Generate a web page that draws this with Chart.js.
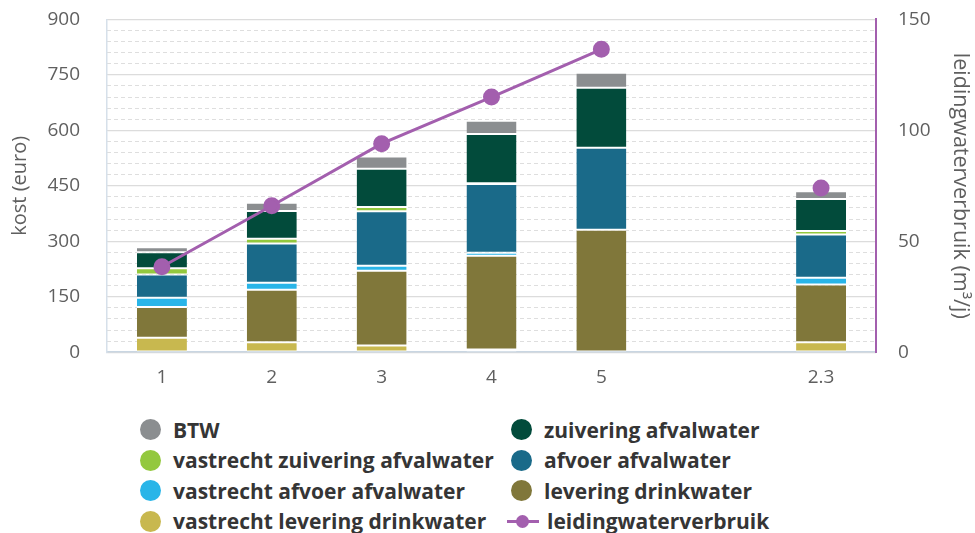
<!DOCTYPE html>
<html>
<head>
<meta charset="utf-8">
<script src="https://cdn.jsdelivr.net/npm/chart.js@4"></script>
<style>
  html, body { margin:0; padding:0; background:#fff; overflow:hidden; }
  #wrap { position:relative; width:975px; height:414px; margin-top:-19px; }
  #legend { position:absolute; left:140px; top:418px; display:grid; grid-template-columns:371px 300px; row-gap:7.5px;
            font-family:"Open Sans", sans-serif; font-weight:700; font-size:21px; color:#353535; }
  .item { display:flex; align-items:center; height:23px; white-space:nowrap; }
  .dot { width:21px; height:21px; border-radius:50%; margin-right:12px; flex:none; }
  .ln { position:relative; width:32px; height:21px; margin-left:-4px; margin-right:8px; flex:none; }
  .ln i { position:absolute; left:0; right:0; top:9px; height:3px; }
  .ln b { position:absolute; left:9px; top:4px; width:13px; height:13px; border-radius:50%; }
</style>
</head>
<body>
<div id="wrap"><canvas id="chart"></canvas></div>
<div id="legend"></div>
<script>
const categories = ['1', '2', '3', '4', '5', '', '2.3'];

const vastrechtLevering = [39, 27, 18, 7, 0, null, 27];
const levering          = [83, 142, 202, 254, 331, null, 156];
const vastrechtAfvoer   = [25, 19, 14, 8, 0, null, 18];
const afvoer            = [63, 106, 147, 186, 222, null, 117];
const vastrechtZuivering= [17, 13, 12, 2, 0, null, 10];
const zuivering         = [43, 75, 103, 133, 162, null, 86];
const btw               = [14, 22, 33, 36, 41, null, 21];

const verbruik = [38.5, 66, 94, 115, 136.5, null, 74];

const costTicks  = [0, 150, 300, 450, 600, 750, 900];
const usageTicks = [0, 50, 100, 150];

const PURPLE = '#a35fae';

const bars = [
    { label:'vastrecht levering drinkwater', data:vastrechtLevering, color:'#c8b84f' },
    { label:'levering drinkwater',           data:levering,          color:'#80773a' },
    { label:'vastrecht afvoer afvalwater',   data:vastrechtAfvoer,   color:'#29b5e8' },
    { label:'afvoer afvalwater',             data:afvoer,            color:'#1a6a89' },
    { label:'vastrecht zuivering afvalwater',data:vastrechtZuivering,color:'#93c83e' },
    { label:'zuivering afvalwater',          data:zuivering,         color:'#024b3b' },
    { label:'BTW',                           data:btw,               color:'#8b8e90' }
];

const datasets = bars.map(b => ({
    type:'bar', label:b.label, data:b.data, backgroundColor:b.color,
    borderColor:'#ffffff', borderWidth:{ top:1, bottom:1, left:0, right:0 }, borderSkipped:false,
    stack:'kost', yAxisID:'y', order:1, barPercentage:0.91, categoryPercentage:0.5
}));
datasets.push({
    type:'line', label:'leidingwaterverbruik', data:verbruik, yAxisID:'y1', order:0,
    borderColor:PURPLE, backgroundColor:PURPLE, borderWidth:3, pointRadius:7, pointHoverRadius:7,
    spanGaps:false, tension:0
});

const tickFont = { family:'"Open Sans", sans-serif', size:19 };

new Chart(document.getElementById('chart'), {
    data: { labels: categories, datasets },
    options: {
        responsive:true, maintainAspectRatio:false, animation:false,
        layout: { padding:0 },
        plugins: { legend:{ display:false }, tooltip:{ enabled:false } },
        scales: {
            x: {
                stacked:true, offset:true,
                grid:{ display:false },
                border:{ color:'#c9d6e2', width:1.5 },
                ticks:{ font:tickFont, color:'#5f5f5f', padding:6 }
            },
            yMinor: {
                position:'left', min:0, max:900, display:true,
                ticks:{ display:false, stepSize:30 },
                grid:{ color:'#dedede', lineWidth:1, drawTicks:false, tickLength:0 },
                border:{ display:false, dash:[4,3] },
                afterFit: s => { s.width = 0; }
            },
            y: {
                stacked:true, position:'left', min:0, max:900,
                afterBuildTicks: ax => { ax.ticks = costTicks.map(v => ({ value:v })); },
                afterFit: s => { s.width = 107; },
                ticks:{ font:tickFont, color:'#5f5f5f', padding:27 },
                grid:{ color:'#dcdcdc', lineWidth:1.2, drawTicks:false },
                border:{ color:'#d6e0ea', width:1.5 },
                title:{ display:true, text:'kost (euro)', font:{ family:'"Open Sans", sans-serif', size:20 }, color:'#5f5f5f', padding:{ top:8, bottom:0 } }
            },
            y1: {
                position:'right', min:0, max:150,
                afterBuildTicks: ax => { ax.ticks = usageTicks.map(v => ({ value:v })); },
                afterFit: s => { s.width = 99; },
                ticks:{ font:tickFont, color:'#5f5f5f', padding:22 },
                grid:{ display:false, drawTicks:false },
                border:{ color:PURPLE, width:2 },
                title:{ display:true, text:'leidingwaterverbruik (m³/j)', font:{ family:'"Open Sans", sans-serif', size:21.5 }, color:'#5f5f5f', padding:{ top:2, bottom:0 } }
            }
        }
    }
});

// legend in the reference's two-column order
const legendOrder = ['BTW', 'zuivering afvalwater', 'vastrecht zuivering afvalwater', 'afvoer afvalwater',
                     'vastrecht afvoer afvalwater', 'levering drinkwater', 'vastrecht levering drinkwater', 'leidingwaterverbruik'];
document.getElementById('legend').innerHTML = legendOrder.map(name => {
    if (name === 'leidingwaterverbruik')
        return `<div class="item"><span class="ln"><i style="background:${PURPLE}"></i><b style="background:${PURPLE}"></b></span>${name}</div>`;
    const b = bars.find(x => x.label === name);
    return `<div class="item"><span class="dot" style="background:${b.color}"></span>${name}</div>`;
}).join('');
</script>
</body>
</html>
